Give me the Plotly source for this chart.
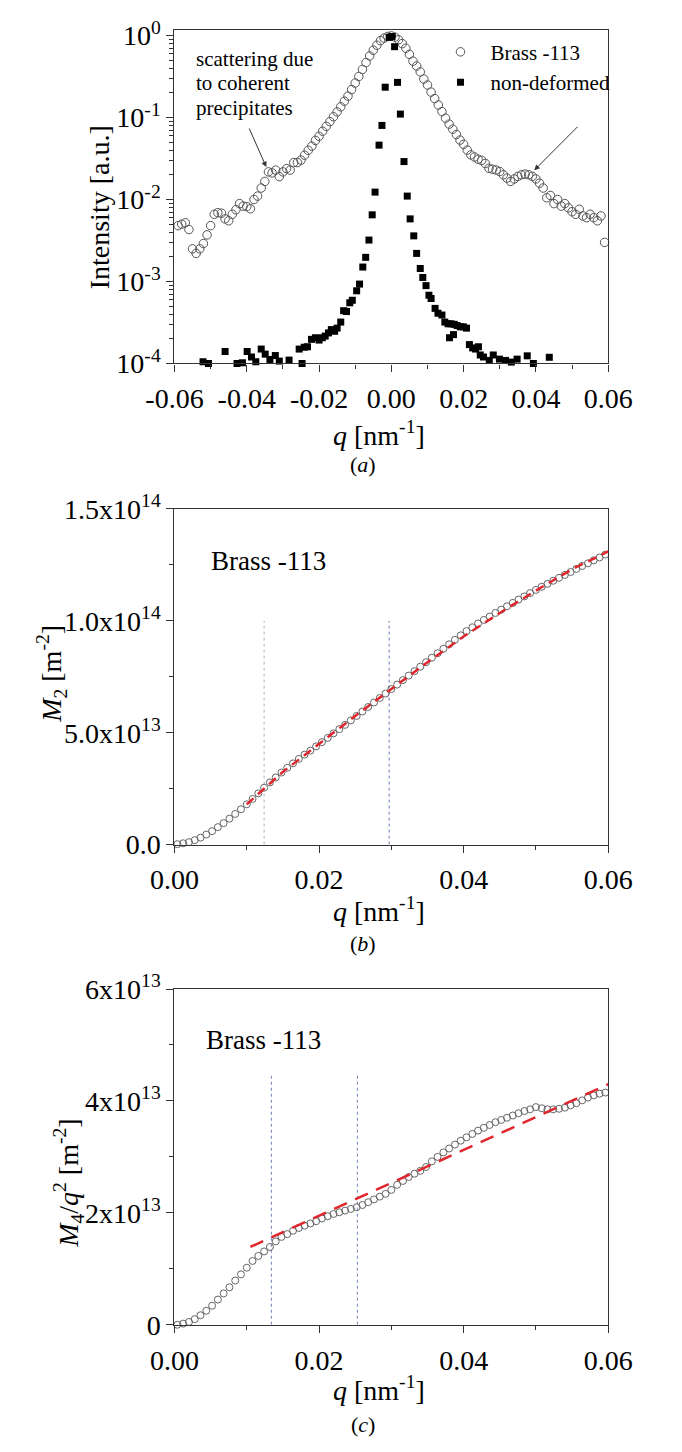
import plotly.graph_objects as go

# ---------------- data ----------------
# panel (a): Brass -113 profile, q sampled every 0.001 nm^-1
Q_A = [i / 1000 for i in range(-59, 60)]
I_BRASS = [
    0.0048, 0.0050, 0.0052, 0.0043, 0.0025, 0.0022, 0.0025, 0.0029, 0.0037, 0.0048,
    0.0066, 0.0069, 0.0068, 0.0058, 0.0055, 0.0066, 0.0075, 0.0089, 0.0083, 0.0082,
    0.0077, 0.0100, 0.0110, 0.0138, 0.0166, 0.0217, 0.0211, 0.0228, 0.0190, 0.0217,
    0.0238, 0.0228, 0.0282, 0.0282, 0.0302, 0.0347, 0.0398, 0.0447, 0.0525, 0.059,
    0.068, 0.078, 0.089, 0.102, 0.117, 0.135, 0.158, 0.182, 0.219, 0.263,
    0.316, 0.385, 0.468, 0.562, 0.661, 0.760, 0.865, 0.929, 0.973, 0.989,
    0.955, 0.887, 0.796, 0.700, 0.589, 0.486, 0.424, 0.360, 0.294, 0.249,
    0.204, 0.170, 0.142, 0.118, 0.098, 0.083, 0.072, 0.062, 0.053, 0.047,
    0.040, 0.035, 0.033, 0.031, 0.030, 0.0275, 0.024, 0.0234, 0.0229, 0.0219,
    0.0200, 0.0182, 0.0166, 0.0178, 0.0191, 0.0200, 0.0204, 0.0200, 0.0191, 0.0178,
    0.0158, 0.0138, 0.0105, 0.0112, 0.0089, 0.0100, 0.0083, 0.0089, 0.0079, 0.0071,
    0.0066, 0.0076, 0.0063, 0.0060, 0.0066, 0.0060, 0.0055, 0.0063, 0.0030,
]

# panel (a): non-deformed profile
Q_ND = [
    -0.0521, -0.0506, -0.0460, -0.0427, -0.0412, -0.0399, -0.0387, -0.0375, -0.0360, -0.0349,
    -0.0336, -0.0321, -0.0310, -0.0283, -0.0255, -0.0247, -0.0241, -0.0232, -0.0221, -0.0210,
    -0.0200, -0.0191, -0.0183, -0.0174, -0.0166, -0.0157, -0.0150, -0.0140, -0.0132, -0.0124,
    -0.0115, -0.0108, -0.0096, -0.0088, -0.0079, -0.0071, -0.0062, -0.0053, -0.0045, -0.0034,
    -0.0026, -0.0017, -0.0006, 0.0002, 0.0009, 0.0017, 0.0025, 0.0035, 0.0044, 0.0052,
    0.0062, 0.0070, 0.0080, 0.0087, 0.0096, 0.0104, 0.0110, 0.0121, 0.0129, 0.0140,
    0.0148, 0.0157, 0.0161, 0.0165, 0.0172, 0.0174, 0.0182, 0.0191, 0.0199, 0.0208,
    0.0216, 0.0225, 0.0233, 0.0241, 0.0246, 0.0255, 0.0271, 0.0282, 0.0299, 0.0316,
    0.0332, 0.0348, 0.0376, 0.0393, 0.0437,
]
I_ND = [
    1.05e-4, 1.0e-4, 1.4e-4, 1.0e-4, 1.02e-4, 1.4e-4, 1.2e-4, 1.05e-4, 1.5e-4, 1.3e-4,
    1.12e-4, 1.25e-4, 1.07e-4, 1.1e-4, 1.5e-4, 1.0e-4, 1.58e-4, 1.6e-4, 1.97e-4, 2.06e-4,
    1.93e-4, 2.06e-4, 2.16e-4, 2.36e-4, 2.59e-4, 2.47e-4, 2.7e-4, 3.2e-4, 4.4e-4, 4.3e-4,
    5.5e-4, 5.9e-4, 7.7e-4, 9.3e-4, 1.5e-3, 1.97e-3, 3.2e-3, 6.5e-3, 1.23e-2, 4.6e-2,
    8.0e-2, 0.234, 0.95, 0.97, 0.73, 0.268, 0.11, 0.029, 0.011, 5.8e-3,
    3.6e-3, 2.2e-3, 1.44e-3, 1.12e-3, 8.9e-4, 6.8e-4, 6.2e-4, 4.7e-4, 4.1e-4, 3.9e-4,
    3.2e-4, 3.05e-4, 2.06e-4, 3.05e-4, 2.25e-4, 3.0e-4, 2.9e-4, 2.8e-4, 2.8e-4, 2.7e-4,
    1.7e-4, 1.55e-4, 1.5e-4, 1.6e-4, 1.27e-4, 1.2e-4, 1.09e-4, 1.27e-4, 1.13e-4, 1.09e-4,
    1.04e-4, 1.13e-4, 1.24e-4, 1.0e-4, 1.19e-4,
]

# panels (b) and (c): q sampling of the moments
Q_M = [
    0.0004, 0.0012, 0.0020, 0.0028, 0.0036, 0.0044, 0.0052, 0.0060, 0.0068, 0.0076,
    0.0084, 0.0092, 0.0100, 0.0108, 0.0116, 0.0124, 0.0132, 0.0140, 0.0148, 0.0156,
    0.0164, 0.0172, 0.0180, 0.0188, 0.0196, 0.0204, 0.0212, 0.0220, 0.0228, 0.0236,
    0.0244, 0.0252, 0.0260, 0.0268, 0.0276, 0.0284, 0.0292, 0.0300, 0.0308, 0.0316,
    0.0324, 0.0332, 0.0340, 0.0348, 0.0356, 0.0364, 0.0372, 0.0380, 0.0388, 0.0396,
    0.0404, 0.0412, 0.0420, 0.0428, 0.0436, 0.0444, 0.0452, 0.0460, 0.0468, 0.0476,
    0.0484, 0.0492, 0.0500, 0.0508, 0.0516, 0.0524, 0.0532, 0.0540, 0.0548, 0.0556,
    0.0564, 0.0572, 0.0580, 0.0588, 0.0596,
]
# M2 in units of 1e13 m^-2
M2_E13 = [
    0.02, 0.06, 0.11, 0.20, 0.31, 0.45, 0.60, 0.78, 0.96, 1.16,
    1.37, 1.58, 1.80, 2.04, 2.29, 2.54, 2.78, 3.00, 3.22, 3.43,
    3.63, 3.83, 4.02, 4.20, 4.39, 4.58, 4.77, 4.97, 5.16, 5.35,
    5.55, 5.75, 5.95, 6.15, 6.35, 6.55, 6.75, 6.95, 7.15, 7.35,
    7.55, 7.75, 7.95, 8.15, 8.35, 8.55, 8.75, 8.95, 9.15, 9.35,
    9.54, 9.71, 9.88, 10.04, 10.19, 10.35, 10.50, 10.65, 10.80, 10.95,
    11.09, 11.24, 11.38, 11.52, 11.65, 11.79, 11.92, 12.05, 12.18, 12.32,
    12.45, 12.57, 12.70, 12.83, 12.96,
]
Q_FIT_B = [0.010, 0.015, 0.020, 0.025, 0.030, 0.035, 0.040, 0.045, 0.050, 0.055, 0.060]
M2_FIT_E13 = [1.80, 3.25, 4.50, 5.75, 6.95, 8.15, 9.30, 10.35, 11.35, 12.30, 13.10]
VLINE_B_Q = [0.0124, 0.0297]
VLINE_B_TOP_E13 = 10.0

# M4/q^2 in units of 1e13 m^-2
M4Q2_E13 = [
    0.00, 0.02, 0.05, 0.10, 0.17, 0.25, 0.34, 0.45, 0.56, 0.67,
    0.79, 0.90, 1.02, 1.14, 1.23, 1.31, 1.39, 1.49, 1.57, 1.62,
    1.68, 1.73, 1.77, 1.81, 1.85, 1.90, 1.94, 1.98, 2.01, 2.04,
    2.07, 2.10, 2.14, 2.19, 2.24, 2.29, 2.34, 2.41, 2.50, 2.57,
    2.64, 2.70, 2.75, 2.82, 2.92, 3.00, 3.08, 3.15, 3.22, 3.29,
    3.35, 3.41, 3.47, 3.52, 3.57, 3.62, 3.66, 3.70, 3.74, 3.78,
    3.82, 3.85, 3.89, 3.87, 3.85, 3.85, 3.86, 3.88, 3.92, 3.96,
    4.01, 4.06, 4.10, 4.13, 4.15,
]
Q_FIT_C = [0.0105, 0.060]
M4Q2_FIT_E13 = [1.39, 4.30]
VLINE_C_Q = [0.0134, 0.0253]
VLINE_C_TOP_E13 = 4.45

# tick labels
XT_A = [-0.06, -0.04, -0.02, 0.0, 0.02, 0.04, 0.06]
XT_A_TEXT = ["-0.06", "-0.04", "-0.02", "0.00", "0.02", "0.04", "0.06"]
YT_A = [1e-4, 1e-3, 1e-2, 1e-1, 1]
YT_A_TEXT = ["10<sup>-4</sup>", "10<sup>-3</sup>", "10<sup>-2</sup>", "10<sup>-1</sup>", "10<sup>0</sup>"]
XT_BC = [0.0, 0.02, 0.04, 0.06]
XT_BC_TEXT = ["0.00", "0.02", "0.04", "0.06"]
YT_B = [0, 5e13, 1e14, 1.5e14]
YT_B_TEXT = ["0.0", "5.0x10<sup>13</sup>", "1.0x10<sup>14</sup>", "1.5x10<sup>14</sup>"]
YT_C = [0, 2e13, 4e13, 6e13]
YT_C_TEXT = ["0", "2x10<sup>13</sup>", "4x10<sup>13</sup>", "6x10<sup>13</sup>"]

# ---------------- figure ----------------
W, H = 682, 1452
FONT = "Liberation Serif"
AX = "#333333"
E13 = 1e13


def px(x):
    return x / W


def py(y):
    return 1 - y / H


fig = go.Figure()

# panel (a)
fig.add_trace(go.Scatter(
    x=Q_A, y=I_BRASS, mode="markers", name="Brass -113",
    marker=dict(symbol="circle-open", size=8.5, color="#555555", line=dict(width=1)),
    cliponaxis=False, xaxis="x", yaxis="y"))
fig.add_trace(go.Scatter(
    x=Q_ND, y=I_ND, mode="markers", name="non-deformed",
    marker=dict(symbol="square", size=7, color="#000000"),
    cliponaxis=False, xaxis="x", yaxis="y"))

# panel (b)
for qv, col in zip(VLINE_B_Q, ["#b0b0c0", "#6a78b0"]):
    fig.add_trace(go.Scatter(
        x=[qv, qv], y=[0, VLINE_B_TOP_E13 * E13], mode="lines", showlegend=False,
        line=dict(color=col, width=1, dash="3px,3px"), xaxis="x2", yaxis="y2"))
fig.add_trace(go.Scatter(
    x=Q_M, y=[v * E13 for v in M2_E13], mode="markers", showlegend=False,
    marker=dict(symbol="circle-open", size=7, color="#666666", line=dict(width=1)),
    cliponaxis=False, xaxis="x2", yaxis="y2"))
fig.add_trace(go.Scatter(
    x=Q_FIT_B, y=[v * E13 for v in M2_FIT_E13], mode="lines", showlegend=False,
    line=dict(color="#e0262c", width=2.5, dash="9px,6px"), xaxis="x2", yaxis="y2"))

# panel (c)
for qv in VLINE_C_Q:
    fig.add_trace(go.Scatter(
        x=[qv, qv], y=[0, VLINE_C_TOP_E13 * E13], mode="lines", showlegend=False,
        line=dict(color="#7080b8", width=1, dash="3px,3px"), xaxis="x3", yaxis="y3"))
fig.add_trace(go.Scatter(
    x=Q_M, y=[v * E13 for v in M4Q2_E13], mode="markers", showlegend=False,
    marker=dict(symbol="circle-open", size=7, color="#666666", line=dict(width=1)),
    cliponaxis=False, xaxis="x3", yaxis="y3"))
fig.add_trace(go.Scatter(
    x=Q_FIT_C, y=[v * E13 for v in M4Q2_FIT_E13], mode="lines", showlegend=False,
    line=dict(color="#e0262c", width=2.5, dash="14px,9px"), xaxis="x3", yaxis="y3"))

XDOM = [px(158), px(629)]
common = dict(showgrid=False, zeroline=False, showline=True, linecolor=AX, linewidth=1.4,
              mirror=True, ticks="outside", ticklen=7, tickwidth=1.3, tickcolor=AX,
              tickfont=dict(family=FONT, size=28, color="#000000"))


def minor(vals):
    return dict(tickmode="array", tickvals=vals, ticks="outside", ticklen=4,
                tickwidth=1.1, tickcolor=AX, showgrid=False)


fig.update_layout(
    width=W, height=H, margin=dict(l=0, r=0, t=0, b=0),
    paper_bgcolor="white", plot_bgcolor="white",
    font=dict(family=FONT, color="#000000"),
    xaxis=dict(domain=XDOM, anchor="y", range=[-0.06, 0.06], tickmode="array",
               tickvals=XT_A, ticktext=XT_A_TEXT, ticklabelstandoff=3,
               minor=minor([-0.05, -0.03, -0.01, 0.01, 0.03, 0.05]), **common),
    yaxis=dict(domain=[py(353), py(11)], anchor="x", type="log", range=[-4, 0.07],
               tickmode="array", tickvals=YT_A, ticktext=YT_A_TEXT,
               minor=minor([m * 10 ** e for e in range(-4, 0) for m in range(2, 10)]), **common),
    xaxis2=dict(domain=XDOM, anchor="y2", range=[0, 0.06], tickmode="array",
                tickvals=XT_BC, ticktext=XT_BC_TEXT, ticklabelstandoff=3,
                minor=minor([0.01, 0.03, 0.05]), **common),
    yaxis2=dict(domain=[py(846), py(502)], anchor="x2", range=[0, 1.5e14], tickmode="array",
                tickvals=YT_B, ticktext=YT_B_TEXT, minor=minor([2.5e13, 7.5e13, 1.25e14]), **common),
    xaxis3=dict(domain=XDOM, anchor="y3", range=[0, 0.06], tickmode="array",
                tickvals=XT_BC, ticktext=XT_BC_TEXT, ticklabelstandoff=3,
                minor=minor([0.01, 0.03, 0.05]), **common),
    yaxis3=dict(domain=[py(1338), py(994)], anchor="x3", range=[0, 6e13], tickmode="array",
                tickvals=YT_C, ticktext=YT_C_TEXT, minor=minor([1e13, 3e13, 5e13]), **common),
    legend=dict(x=px(436), y=py(13), xanchor="left", yanchor="top", itemwidth=50,
                font=dict(family=FONT, size=21, color="#000000"), bgcolor="rgba(0,0,0,0)",
                tracegroupgap=0),
    showlegend=True,
)

ann = []


def text(x, y, s, size, **kw):
    d = dict(x=px(x), y=py(y), xref="paper", yref="paper", text=s, showarrow=False,
             font=dict(family=FONT, size=size, color="#000000"), xanchor="center", yanchor="middle")
    d.update(kw)
    ann.append(d)


# axis titles and captions
for yq, ycap, cap in [(425, 457, "a"), (912, 947, "b"), (1403, 1440, "c")]:
    text(380, yq, "<i>q</i> [nm<sup>-1</sup>]", 28)
    text(363, ycap, "(<i>%s</i>)" % cap, 22)
text(76, 193, "Intensity [a.u.]", 28, textangle=-90)
text(25, 671, "<i>M</i><sub>2</sub> [m<sup>-2</sup>]", 28, textangle=-90)
text(43, 1193, "<i>M</i><sub>4</sub>/<i>q</i><sup>2</sup> [m<sup>-2</sup>]", 28, textangle=-90)

# in-plot labels
text(196, 555, "Brass -113", 27, xanchor="left")
text(190, 1046, "Brass -113", 27, xanchor="left")
text(179, 41, "scattering due", 21, xanchor="left")
text(179, 66, "to coherent", 21, xanchor="left")
text(179, 91, "precipitates", 21, xanchor="left")

# arrows
for hx, hy, tx, ty in [(257.7, 151.7, 240, 111.7), (548.7, 155, 593.5, 110)]:
    ann.append(dict(x=px(hx), y=py(hy), xref="paper", yref="paper", text="", showarrow=True,
                    ax=tx - hx, ay=ty - hy, axref="pixel", ayref="pixel",
                    arrowhead=2, arrowsize=1.1, arrowwidth=1, arrowcolor="#333333", standoff=0))

fig.update_layout(annotations=ann)

fig.write_html("out.html", config={"displayModeBar": False},
               post_script="document.body.style.margin='0';")
